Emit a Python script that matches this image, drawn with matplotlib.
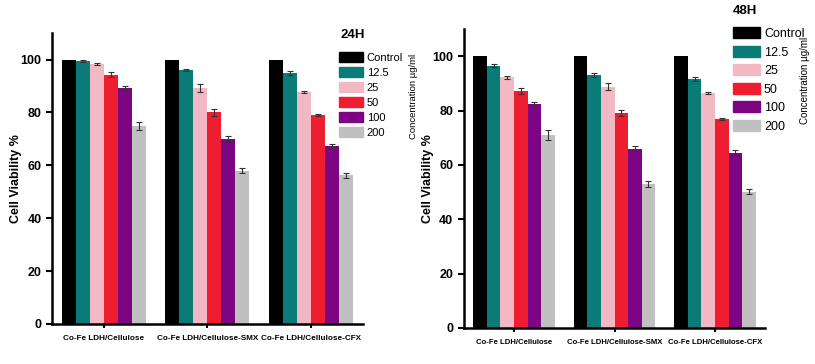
import numpy as np
import matplotlib.pyplot as plt
from matplotlib.patches import Patch

groups = ['Co-Fe LDH/Cellulose', 'Co-Fe LDH/Cellulose-SMX', 'Co-Fe LDH/Cellulose-CFX']
conc = ['Control', '12.5', '25', '50', '100', '200']
colors = ['#000000', '#0b7b78', '#f2b9c4', '#ee1d30', '#7d0482', '#c0c0c0']

# rows = concentration, cols = group
v24 = [[100, 100, 100],
       [99.3, 96.0, 95.0],
       [98.3, 89.3, 87.7],
       [94.3, 80.0, 79.0],
       [89.3, 70.0, 67.2],
       [75.0, 58.0, 56.2]]
e24 = [[0, 0, 0],
       [0.4, 0.5, 0.7],
       [0.5, 1.6, 0.5],
       [1.0, 1.2, 0.3],
       [0.8, 1.0, 0.8],
       [1.5, 1.0, 1.0]]

v48 = [[100, 100, 100],
       [96.6, 93.0, 91.7],
       [92.2, 88.8, 86.4],
       [87.3, 79.1, 76.8],
       [82.3, 66.0, 64.5],
       [71.0, 53.0, 50.2]]
e48 = [[0, 0, 0],
       [0.4, 0.8, 0.7],
       [0.5, 1.3, 0.4],
       [1.0, 1.0, 0.4],
       [1.0, 0.8, 1.0],
       [1.7, 1.0, 1.0]]

plt.rcParams['font.family'] = ['Liberation Sans', 'DejaVu Sans']

fig = plt.figure(figsize=(8.15, 3.64), dpi=100)
ax1 = fig.add_axes([0.064, 0.110, 0.381, 0.799])
ax2 = fig.add_axes([0.569, 0.099, 0.370, 0.821])

w = 0.135
x = np.arange(3)

def draw(ax, vals, errs, title, tx, ty, lx, ly, lgap, lfs, cx, cy, cfs, xfs):
    for i in range(6):
        pos = x + (i - 2.5) * w
        ax.bar(pos, vals[i], w, color=colors[i], edgecolor='none')
        if i > 0:
            ax.errorbar(pos, vals[i], yerr=errs[i], fmt='none', ecolor='#333333',
                        elinewidth=0.8, capsize=2.5, capthick=0.8)
    ax.set_xlim(-0.5, 2.5)
    ax.set_ylim(0, 110)
    ax.set_yticks([0, 20, 40, 60, 80, 100])
    ax.set_xticks(x)
    ax.set_xticklabels(groups, fontsize=xfs, fontweight='bold')
    for lab in ax.get_yticklabels():
        lab.set_fontweight('bold')
        lab.set_fontsize(9)
    ax.tick_params(axis='both', width=1.5, length=4, direction='out')
    ax.tick_params(axis='x', length=3, pad=5)
    for s in ['top', 'right']:
        ax.spines[s].set_visible(False)
    for s in ['left', 'bottom']:
        ax.spines[s].set_linewidth(1.8)
    ax.set_ylabel('Cell Viability %', fontsize=9, fontweight='bold')
    fig.text(tx, ty, title, fontsize=9.5, fontweight='bold')
    handles = [Patch(color=c) for c in colors]
    fig.legend(handles, conc, loc='upper left', bbox_to_anchor=(lx, ly),
               frameon=False, prop={'size': lfs},
               handlelength=2.2, handleheight=1.0, handletextpad=0.3,
               labelspacing=lgap, borderaxespad=0, borderpad=0)
    fig.text(cx, cy, 'Concentration µg/ml', rotation=90, fontsize=cfs,
             ha='center', va='center')

draw(ax1, v24, e24, '24H', 0.418, 0.895, 0.416, 0.857, 0.38, 8, 0.507, 0.735, 6.8, 5.9)
draw(ax2, v48, e48, '48H', 0.899, 0.962, 0.899, 0.925, 0.45, 9, 0.988, 0.778, 7, 5.6)
ax1.yaxis.set_label_coords(-0.096, 0.5)
ax2.yaxis.set_label_coords(-0.10, 0.5)

fig.savefig('out.png', dpi=100)
